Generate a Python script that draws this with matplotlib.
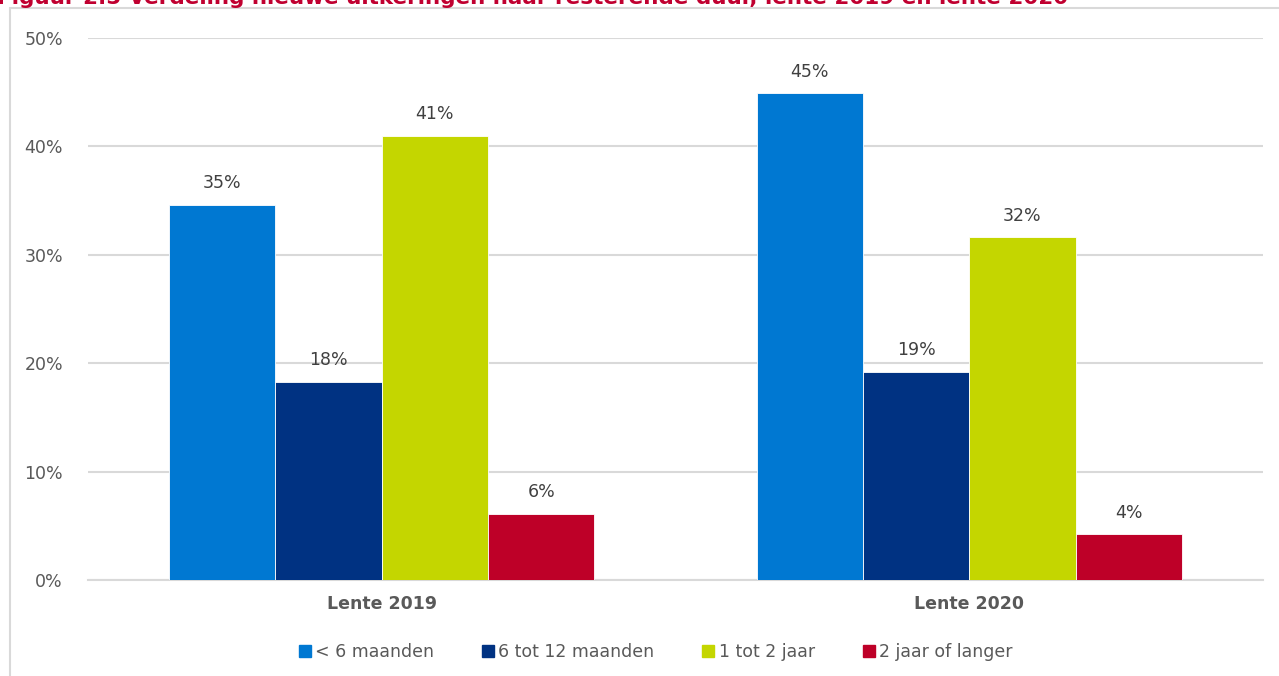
import matplotlib
matplotlib.use("Agg")
import matplotlib.pyplot as plt
from matplotlib.lines import Line2D
from matplotlib.patches import Rectangle
import numpy as np

categories = ["Lente 2019", "Lente 2020"]
series_names = ["< 6 maanden", "6 tot 12 maanden", "1 tot 2 jaar", "2 jaar of langer"]
values = {
    "< 6 maanden": [34.6, 44.9],
    "6 tot 12 maanden": [18.3, 19.2],
    "1 tot 2 jaar": [41.0, 31.6],
    "2 jaar of langer": [6.1, 4.2],
}
labels = {
    "< 6 maanden": ["35%", "45%"],
    "6 tot 12 maanden": ["18%", "19%"],
    "1 tot 2 jaar": ["41%", "32%"],
    "2 jaar of langer": ["6%", "4%"],
}
colors = ["#0078D2", "#003282", "#C4D600", "#BE0028"]
title = "Figuur 2.5 Verdeling nieuwe uitkeringen naar resterende duur, lente 2019 en lente 2020"

W, H = 1279, 676
fig = plt.figure(figsize=(W / 100, H / 100), dpi=100)
plt.rcParams['font.family'] = ['DejaVu Sans']
txt = "#595959"

# outer frame
fig.patches.append(Rectangle((10 / W, -0.05), 1.2, 1 - 8 / H + 0.05, transform=fig.transFigure,
                             fill=False, edgecolor="#D9D9D9", linewidth=1.5))

ax = fig.add_axes([88 / W, (H - 580) / H, 1175 / W, (580 - 38) / H])
x = np.arange(len(categories))
bw = 0.181
n = len(series_names)
for i, (name, c) in enumerate(zip(series_names, colors)):
    offs = (i - (n - 1) / 2) * bw
    bars = ax.bar(x + offs, values[name], width=bw, color=c, edgecolor="white", linewidth=0.6, zorder=3)
    ax.bar_label(bars, labels=labels[name], padding=9, fontsize=12.5, color="#404040")

ax.set_xlim(-0.5, 1.5)
ax.set_ylim(0, 50)
ax.set_yticks(np.arange(0, 51, 10))
ax.set_yticklabels([f"{v}%" for v in range(0, 51, 10)], fontsize=12.5, color=txt)
ax.set_xticks(x)
ax.set_xticklabels(categories, fontsize=12.5, fontweight="bold", color=txt)
ax.tick_params(axis="both", length=0)
ax.tick_params(axis="y", pad=18)
ax.tick_params(axis="x", pad=11)
ax.grid(axis="y", color="#D9D9D9", linewidth=1.5, zorder=0)
for s in ["top", "right", "left"]:
    ax.spines[s].set_visible(False)
ax.spines["bottom"].set_color("#D9D9D9")
ax.spines["bottom"].set_linewidth(1.5)

handles = [Line2D([], [], marker="s", linestyle="none", markersize=8, markerfacecolor=c,
                  markeredgecolor=c) for c in colors]
fig.legend(handles, series_names, loc="center", bbox_to_anchor=(656 / W, 1 - 652 / H), ncol=4,
           frameon=False, fontsize=12.5, labelcolor=txt, handlelength=0.6, handletextpad=0.3,
           columnspacing=2.8)

fig.text(-0.002, 1 - 4 / H, title, color="#C00030", fontsize=15.5, fontweight="bold", va="baseline", ha="left")

fig.savefig("out.png", dpi=100)
